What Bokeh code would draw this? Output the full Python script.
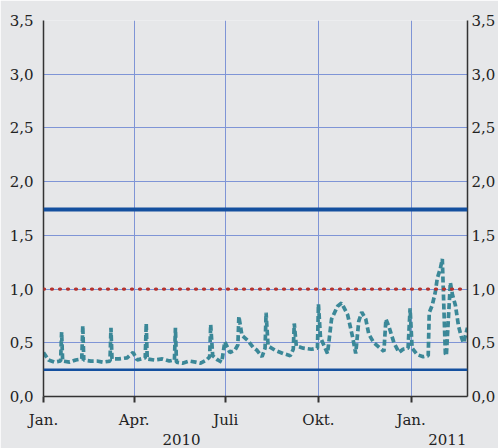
from bokeh.plotting import figure
from bokeh.models import LinearAxis, FixedTicker, Span, Grid
from bokeh.embed import file_html
from bokeh.resources import INLINE

# ---- data ----
days = [0, 5, 11, 17, 18, 19, 26, 32, 38, 39, 40, 47, 53, 59, 66, 67, 68, 75, 83, 89,
        93, 101, 102, 103, 110, 118, 125, 130, 131, 132, 138, 145, 151, 156, 162, 165,
        166, 168, 173, 177, 180, 185, 190, 193, 194, 197, 203, 208, 212, 217, 220, 221,
        223, 230, 238, 245, 248, 249, 251, 258, 266, 272, 273, 275, 282, 286, 292, 296,
        302, 307, 310, 313, 316, 320, 323, 328, 333, 338, 340, 343, 348, 353, 357, 362,
        364, 366, 371, 377, 382, 383, 386, 389, 391, 394, 396, 399, 400, 404, 406, 409,
        412, 415, 417, 421]
values = [0.41, 0.34, 0.32, 0.33, 0.60, 0.33, 0.32, 0.34, 0.35, 0.66, 0.34, 0.33, 0.33,
          0.32, 0.33, 0.64, 0.35, 0.35, 0.36, 0.41, 0.34, 0.36, 0.68, 0.35, 0.34, 0.35,
          0.33, 0.34, 0.64, 0.32, 0.31, 0.33, 0.32, 0.31, 0.34, 0.37, 0.67, 0.38, 0.34,
          0.32, 0.51, 0.41, 0.43, 0.48, 0.745, 0.57, 0.52, 0.46, 0.43, 0.37, 0.45, 0.78,
          0.47, 0.43, 0.40, 0.38, 0.44, 0.68, 0.47, 0.45, 0.44, 0.45, 0.86, 0.55, 0.40,
          0.72, 0.84, 0.87, 0.76, 0.55, 0.40, 0.70, 0.785, 0.72, 0.58, 0.50, 0.46, 0.42,
          0.72, 0.65, 0.50, 0.41, 0.44, 0.45, 0.82, 0.45, 0.39, 0.37, 0.38, 0.78, 0.85,
          0.97, 1.10, 1.19, 1.28, 0.40, 0.38, 1.06, 0.95, 0.85, 0.66, 0.55, 0.50, 0.64]

upper_level = 1.74
reference_level = 1.0
lower_level = 0.25

x_tick_days = [0, 90, 181, 273, 365]
x_tick_labels = ["Jan.", "Apr.", "Juli", "Okt.", "Jan."]
year_tick_days = [137, 401]
year_labels = ["2010", "2011"]
y_ticks = [0.0, 0.5, 1.0, 1.5, 2.0, 2.5, 3.0, 3.5]
y_tick_labels = ["0,0", "0,5", "1,0", "1,5", "2,0", "2,5", "3,0", "3,5"]

BG = "#e6e7e9"
GRID = "#7f95d6"
FONT = "DejaVu Serif"

p = figure(width=498, height=448, x_range=(0, 421), y_range=(0, 3.5),
           x_axis_type=None, y_axis_type=None,
           output_backend="svg", toolbar_location=None,
           min_border_left=43, min_border_right=31, min_border_top=20, min_border_bottom=52)
p.background_fill_color = BG
p.border_fill_color = BG
p.outline_line_color = None

def style_axis(ax, size="15px"):
    ax.major_label_text_font = FONT
    ax.major_label_text_font_size = size
    ax.major_label_text_color = "#222222"
    ax.minor_tick_line_color = None

# y axes
for side in ("left", "right"):
    ax = LinearAxis(ticker=FixedTicker(ticks=y_ticks),
                    major_label_overrides=dict(zip(y_ticks, y_tick_labels)))
    style_axis(ax)
    ax.major_tick_line_color = None
    ax.axis_line_color = "#333333"
    ax.axis_line_width = 1.5
    ax.major_label_standoff = 4 if side == "left" else -2
    p.add_layout(ax, side)

# x axis
xa = LinearAxis(ticker=FixedTicker(ticks=x_tick_days),
                major_label_overrides=dict(zip(x_tick_days, x_tick_labels)))
style_axis(xa)
xa.axis_line_color = "#333333"
xa.axis_line_width = 1.5
xa.major_tick_line_color = "#333333"
xa.major_tick_line_width = 2
xa.major_tick_in = 0
xa.major_tick_out = 6
xa.major_label_standoff = 8
p.add_layout(xa, "below")

ya = LinearAxis(ticker=FixedTicker(ticks=year_tick_days),
                major_label_overrides=dict(zip(year_tick_days, year_labels)))
style_axis(ya)
ya.axis_line_color = None
ya.major_tick_line_color = None
ya.major_tick_out = 0
ya.major_tick_in = 0
ya.major_label_standoff = 2
p.add_layout(ya, "below")

# grids
p.grid.visible = False
p.add_layout(Grid(dimension=0, ticker=FixedTicker(ticks=x_tick_days[1:]),
                  grid_line_color=GRID, grid_line_width=1))
p.add_layout(Grid(dimension=1, ticker=FixedTicker(ticks=y_ticks[1:]),
                  grid_line_color=GRID, grid_line_width=1))

# reference lines
p.add_layout(Span(location=upper_level, dimension="width", line_color="#14509f", line_width=4))
p.add_layout(Span(location=lower_level, dimension="width", line_color="#14509f", line_width=2.5))
p.add_layout(Span(location=reference_level, dimension="width", line_color="#b5332e",
                  line_width=3.3, line_dash="1 7", line_cap="round"))

# series
p.line(days, values, line_color="#3b8898", line_width=3.7, line_dash="6 3")

open("out.html", "w").write(file_html(p, INLINE))
